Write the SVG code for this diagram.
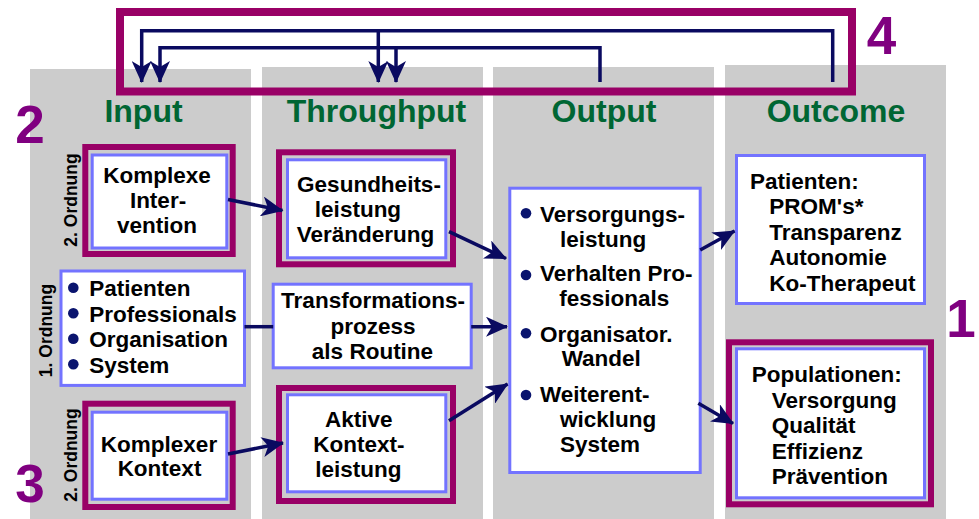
<svg xmlns="http://www.w3.org/2000/svg" width="979" height="519" viewBox="0 0 979 519">
<defs>
<style>
.col{fill:#cccccc}
.pf{fill:none;stroke:#990066;stroke-width:6}
.bx{fill:#ffffff;stroke:#7373ff;stroke-width:3}
.t{font-family:"Liberation Sans",Arial,sans-serif;font-weight:bold;font-size:22.5px;fill:#000000}
.m{text-anchor:middle}
.hd{font-family:"Liberation Sans",Arial,sans-serif;font-weight:bold;font-size:32px;fill:#006633;text-anchor:middle}
.num{font-family:"Liberation Sans",Arial,sans-serif;font-weight:bold;font-size:53px;fill:#800080;text-anchor:middle}
.ord{font-family:"Liberation Sans",Arial,sans-serif;font-weight:bold;font-size:17.5px;fill:#000000;text-anchor:middle}
.bul{fill:#0a146e}
.cn{fill:none;stroke:#0a0a60;stroke-width:3.5}
.ar{marker-end:url(#ah)}
</style>
<marker id="ah" markerUnits="userSpaceOnUse" markerWidth="22" markerHeight="20" refX="21" refY="10" orient="auto">
<path d="M0,0 L22,10 L0,20 L6,10 Z" fill="#0a0a60"/>
</marker>
</defs>

<g id="columns">
<rect class="col" x="30" y="69" width="221" height="450"/>
<rect class="col" x="262" y="67" width="221" height="452"/>
<rect class="col" x="493" y="67" width="221" height="452"/>
<rect class="col" x="725" y="65" width="221" height="454"/>
</g>

<g id="headers">
<text class="hd" x="143.5" y="122">Input</text>
<text class="hd" x="376.5" y="122">Throughput</text>
<text class="hd" x="604" y="122">Output</text>
<text class="hd" x="836" y="122">Outcome</text>
</g>

<g id="feedback-frame">
<rect x="120" y="12" width="732" height="79.5" fill="none" stroke="#990066" stroke-width="8"/>
</g>

<g id="numbers">
<text class="num" x="30" y="143">2</text>
<text class="num" x="30" y="502">3</text>
<text class="num" x="961" y="337">1</text>
<text class="num" x="881.5" y="54">4</text>
</g>

<g id="ordnung-labels">
<text class="ord" transform="translate(77,200) rotate(-90)">2. Ordnung</text>
<text class="ord" transform="translate(52,330.5) rotate(-90)">1. Ordnung</text>
<text class="ord" transform="translate(77,455) rotate(-90)">2. Ordnung</text>
</g>

<g id="komplexe-intervention">
<rect class="pf" x="85.3" y="147" width="147.4" height="107"/>
<rect class="bx" x="92.2" y="155" width="134.6" height="93"/>
<text class="t m" x="157" y="182.7">Komplexe</text>
<text class="t m" x="158" y="208">Inter-</text>
<text class="t m" x="157" y="233.3">vention</text>
</g>

<g id="input-list">
<rect class="bx" x="61" y="271" width="183.5" height="114.4"/>
<circle class="bul" cx="73.3" cy="287.7" r="5.3"/>
<circle class="bul" cx="73.3" cy="313.3" r="5.3"/>
<circle class="bul" cx="73.3" cy="338.8" r="5.3"/>
<circle class="bul" cx="73.3" cy="364.3" r="5.3"/>
<text class="t" x="89.3" y="296">Patienten</text>
<text class="t" x="89.3" y="321.6">Professionals</text>
<text class="t" x="89.3" y="347.2">Organisation</text>
<text class="t" x="89.3" y="372.8">System</text>
</g>

<g id="komplexer-kontext">
<rect class="pf" x="85.3" y="403.7" width="147.4" height="103.3"/>
<rect class="bx" x="92.2" y="412.2" width="134.6" height="87"/>
<text class="t m" x="159" y="451.7">Komplexer</text>
<text class="t m" x="159.5" y="476">Kontext</text>
</g>

<g id="gesundheitsleistung">
<rect class="pf" x="279" y="152.3" width="174" height="112"/>
<rect class="bx" x="287.5" y="159.8" width="158.3" height="98"/>
<text class="t m" x="369" y="191.7">Gesundheits-</text>
<text class="t m" x="358" y="217.3">leistung</text>
<text class="t m" x="365.5" y="241.7">Veränderung</text>
</g>

<g id="transformationsprozess">
<rect class="bx" x="273.2" y="284.2" width="198" height="83.6"/>
<text class="t m" x="373" y="308.3">Transformations-</text>
<text class="t m" x="373" y="333.8">prozess</text>
<text class="t m" x="372.5" y="359.3">als Routine</text>
</g>

<g id="aktive-kontextleistung">
<rect class="pf" x="279" y="388" width="174" height="113"/>
<rect class="bx" x="287.5" y="394.8" width="158.3" height="97"/>
<text class="t m" x="358.7" y="426.7">Aktive</text>
<text class="t m" x="358.8" y="451.7">Kontext-</text>
<text class="t m" x="358.3" y="477.3">leistung</text>
</g>

<g id="output-list">
<rect class="bx" x="509.8" y="188.2" width="190.4" height="284.3"/>
<circle class="bul" cx="526" cy="213.3" r="5.3"/>
<circle class="bul" cx="526" cy="275" r="5.3"/>
<circle class="bul" cx="526" cy="333.3" r="5.3"/>
<circle class="bul" cx="526" cy="395" r="5.3"/>
<text class="t" x="540" y="221.7">Versorgungs-</text>
<text class="t" x="560" y="246.7">leistung</text>
<text class="t" x="540" y="280.7">Verhalten Pro-</text>
<text class="t" x="559.3" y="306">fessionals</text>
<text class="t" x="540" y="341.7">Organisator.</text>
<text class="t" x="561.7" y="366">Wandel</text>
<text class="t" x="540" y="401.7">Weiterent-</text>
<text class="t" x="560" y="426.7">wicklung</text>
<text class="t" x="560" y="451.7">System</text>
</g>

<g id="outcome-patienten">
<rect class="bx" x="736.5" y="155.5" width="188" height="148"/>
<text class="t" x="750" y="188.5">Patienten:</text>
<text class="t" x="769.3" y="214">PROM's*</text>
<text class="t" x="769.3" y="239.5">Transparenz</text>
<text class="t" x="769.3" y="265">Autonomie</text>
<text class="t" x="769.3" y="290.5">Ko-Therapeut</text>
</g>

<g id="outcome-populationen">
<rect class="pf" x="729" y="342.3" width="202" height="162"/>
<rect class="bx" x="736.5" y="348.8" width="188" height="149"/>
<text class="t" x="751.7" y="382">Populationen:</text>
<text class="t" x="771.7" y="407.5">Versorgung</text>
<text class="t" x="771.7" y="433">Qualität</text>
<text class="t" x="771.7" y="458.5">Effizienz</text>
<text class="t" x="771.7" y="484">Prävention</text>
</g>

<g id="connectors">
<path class="cn ar" d="M832.7,82 V30.7 H141.7 V82"/>
<path class="cn ar" d="M378.3,30.7 V82"/>
<path class="cn ar" d="M600,82 V47.7 H160 V82"/>
<path class="cn ar" d="M396,47.7 V82"/>
<path class="cn ar" d="M228,199.5 L282.5,210.5"/>
<path class="cn" d="M244.5,326.7 H273.2"/>
<path class="cn ar" d="M228,454 L283,443"/>
<path class="cn ar" d="M449,231.7 L506,258.5"/>
<path class="cn ar" d="M471.2,326.7 L507,326.7"/>
<path class="cn ar" d="M449,420.7 L507.5,384"/>
<path class="cn ar" d="M700.2,250 L734.5,231"/>
<path class="cn ar" d="M698.3,403.3 L733,423.5"/>
</g>
</svg>
